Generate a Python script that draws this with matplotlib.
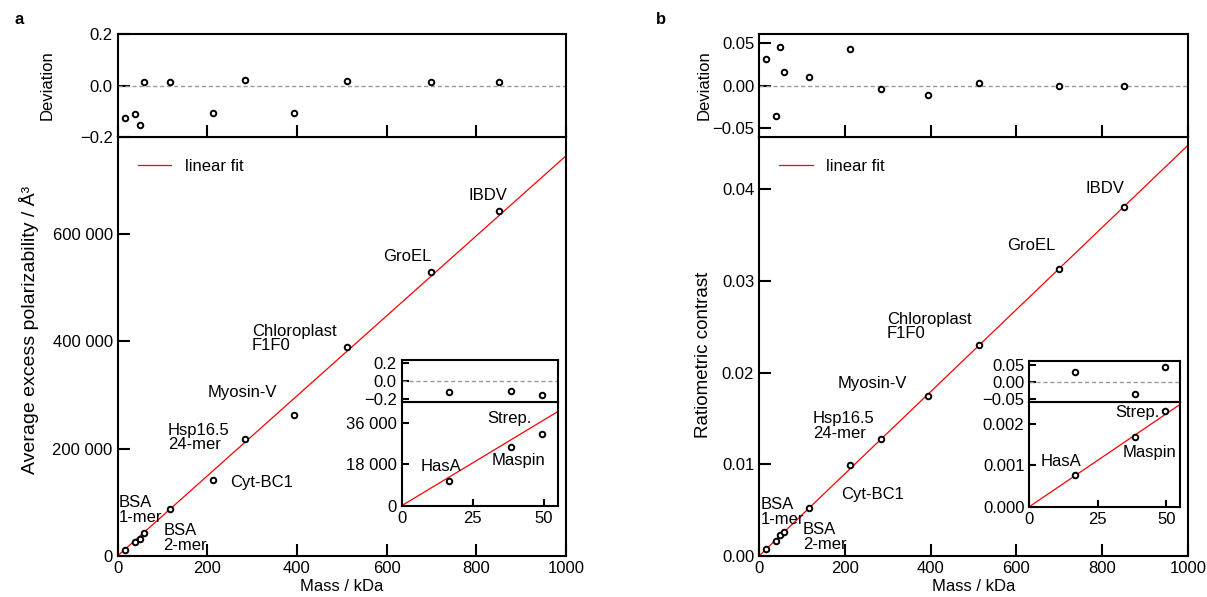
import numpy as np
import matplotlib
matplotlib.use("Agg")
import matplotlib.pyplot as plt
from matplotlib.ticker import FuncFormatter, FormatStrFormatter

plt.rcParams['font.family'] = ['Liberation Sans', 'DejaVu Sans']
plt.rcParams['font.size'] = 12
plt.rcParams['axes.linewidth'] = 1.5

# --- datos ---
masa = [16.5, 38.7, 49.5, 58, 116.5, 213, 285, 394, 512, 700, 850]   # kDa
polarizabilidad = [10700, 25600, 31200, 43700, 87800, 141500, 217200,
                   261800, 388700, 528800, 642100]
desv_polar = [-0.128, -0.112, -0.154, 0.012, 0.012, -0.108, 0.023,
              -0.108, 0.019, 0.014, 0.014]
contraste = [0.000762, 0.001671, 0.002317, 0.002640, 0.005271, 0.009943,
             0.012717, 0.017457, 0.023006, 0.031329, 0.038042]
desv_contraste = [0.031, -0.036, 0.045, 0.016, 0.010, 0.042, -0.004,
                  -0.011, 0.003, -0.001, -0.001]
pendiente_polar = 745.0        # A^3 / kDa
pendiente_contraste = 4.48e-5  # 1 / kDa

# etiquetas de proteinas (texto, x, y en datos, alineacion)
etiquetas_a = [("IBDV", 826, 672000, 'center'),
               ("GroEL", 592, 557000, 'left'),
               ("Chloroplast\nF1F0", 300, 405000, 'left'),
               ("Myosin-V", 201, 304000, 'left'),
               ("Hsp16.5\n24-mer", 112, 221000, 'left'),
               ("Cyt-BC1", 251, 136500, 'left'),
               ("BSA\n1-mer", 3, 85600, 'left'),
               ("BSA\n2-mer", 102, 33700, 'left')]
etiquetas_b = [("IBDV", 806, 0.0401, 'center'),
               ("GroEL", 578, 0.0339, 'left'),
               ("Chloroplast\nF1F0", 298, 0.0250, 'left'),
               ("Myosin-V", 184, 0.01876, 'left'),
               ("Hsp16.5\n24-mer", 125, 0.01419, 'left'),
               ("Cyt-BC1", 191, 0.00673, 'left'),
               ("BSA\n1-mer", 4, 0.0048, 'left'),
               ("BSA\n2-mer", 102, 0.00207, 'left')]
inset_a = [("HasA", 13.8, 16980), ("Strep.", 38.1, 38050), ("Maspin", 41.1, 19890)]
inset_b = [("HasA", 11.6, 0.001084), ("Strep.", 39.6, 0.002275), ("Maspin", 43.8, 0.0013)]

W, H = 1207, 597
fig = plt.figure(figsize=(W / 100, H / 100), dpi=100)


def caja(x0, y0, x1, y1):
    # pixeles -> fraccion de figura
    return [x0 / W, 1 - y1 / H, (x1 - x0) / W, (y1 - y0) / H]


def estilo(ax, largo=8.5):
    ax.tick_params(direction='in', length=largo, width=1.5, top=False, right=False)
    for s in ax.spines.values():
        s.set_linewidth(1.5)


def puntos(ax, x, y):
    ax.plot(x, y, 'o', ls='none', ms=4.0, mfc='white', mec='black', mew=1.4, zorder=5)


miles = FuncFormatter(lambda v, p: f"{int(round(v)):,}".replace(",", " "))
xfit = np.array([0, 1000])
xfit_in = np.array([0, 55])

paneles = [
    dict(x0=117.5, x1=566, val=polarizabilidad, dev=desv_polar, m=pendiente_polar,
         ylim=(0, 780000), yticks=[0, 200000, 400000, 600000], fmt=miles,
         dlim=(-0.2, 0.2), dticks=[-0.2, 0.0, 0.2],
         ylabel='Average excess polarizability / Å³', etq=etiquetas_a,
         ins=(401.7, 557.7, 360, 401.7, 505.7), ins_ylim=(0, 45300),
         ins_yticks=[0, 18000, 36000], ins_fmt=miles, ins_dlim=(-0.235, 0.237),
         ins_dticks=[-0.2, 0.0, 0.2], ins_etq=inset_a, letra='a',
         ylab_fs=14, ylab_pos=(-0.175, 0.54), dlab_x=-0.14),
    dict(x0=759, x1=1188, val=contraste, dev=desv_contraste, m=pendiente_contraste,
         ylim=(0, 0.0457), yticks=[0, 0.01, 0.02, 0.03, 0.04],
         fmt=FormatStrFormatter('%.2f'),
         dlim=(-0.06, 0.06), dticks=[-0.05, 0.0, 0.05],
         ylabel='Ratiometric contrast', etq=etiquetas_b,
         ins=(1029.3, 1180, 360.7, 402.3, 506.7), ins_ylim=(0, 0.002516),
         ins_yticks=[0, 0.001, 0.002], ins_fmt=FormatStrFormatter('%.3f'),
         ins_dlim=(-0.0604, 0.0634), ins_dticks=[-0.05, 0.0, 0.05],
         ins_etq=inset_b, letra='b', ylab_fs=13.5, ylab_pos=(-0.11, 0.48),
         dlab_x=-0.11),
]

for p in paneles:
    ax = fig.add_axes(caja(p['x0'], 137, p['x1'], 556))
    axd = fig.add_axes(caja(p['x0'], 34, p['x1'], 137))

    # grafico principal
    ax.plot(xfit, p['m'] * xfit, color='red', lw=0.9, label='linear fit')
    puntos(ax, masa, p['val'])
    ax.set_xlim(0, 1000)
    ax.set_ylim(*p['ylim'])
    ax.set_xticks([0, 200, 400, 600, 800, 1000])
    ax.set_yticks(p['yticks'])
    ax.yaxis.set_major_formatter(p['fmt'])
    ax.set_xlabel('Mass / kDa', labelpad=2)
    ax.set_ylabel(p['ylabel'], fontsize=p['ylab_fs'])
    ax.yaxis.set_label_coords(*p['ylab_pos'])
    estilo(ax)
    ax.legend(loc='upper left', frameon=False, handlelength=2.0, handletextpad=0.8,
              bbox_to_anchor=(0.02, 0.975), borderaxespad=0.3)
    for txt, x, y, ha in p['etq']:
        ax.text(x, y, txt, ha=ha, va='center', linespacing=0.95)

    # desviaciones
    axd.axhline(0, color='#999999', lw=1, ls=(0, (3, 2)))
    puntos(axd, masa, p['dev'])
    axd.set_xlim(0, 1000)
    axd.set_ylim(*p['dlim'])
    axd.set_xticks([0, 200, 400, 600, 800, 1000])
    axd.set_yticks(p['dticks'])
    axd.set_xticklabels([])
    axd.set_ylabel('Deviation')
    axd.yaxis.set_label_coords(p['dlab_x'], 0.5)
    estilo(axd)

    # recuadro con las proteinas chicas
    ix0, ix1, iy0, iy1, iy2 = p['ins']
    axi = fig.add_axes(caja(ix0, iy1, ix1, iy2))
    axid = fig.add_axes(caja(ix0, iy0, ix1, iy1))
    axi.plot(xfit_in, p['m'] * xfit_in, color='red', lw=0.9)
    puntos(axi, masa[:3], p['val'][:3])
    axi.set_xlim(0, 55)
    axi.set_ylim(*p['ins_ylim'])
    axi.set_xticks([0, 25, 50])
    axi.set_yticks(p['ins_yticks'])
    axi.yaxis.set_major_formatter(p['ins_fmt'])
    estilo(axi, 5)
    for txt, x, y in p['ins_etq']:
        axi.text(x, y, txt, ha='center', va='center')

    axid.axhline(0, color='#999999', lw=1, ls=(0, (3, 2)))
    puntos(axid, masa[:3], p['dev'][:3])
    axid.set_xlim(0, 55)
    axid.set_ylim(*p['ins_dlim'])
    axid.set_xticks([])
    axid.set_yticks(p['ins_dticks'])
    estilo(axid, 5)

    fig.text((p['x0'] - 103) / W, 1 - 20 / H, p['letra'], fontweight='bold',
             fontsize=12, va='center', ha='left')

fig.savefig('out.png', dpi=100)
